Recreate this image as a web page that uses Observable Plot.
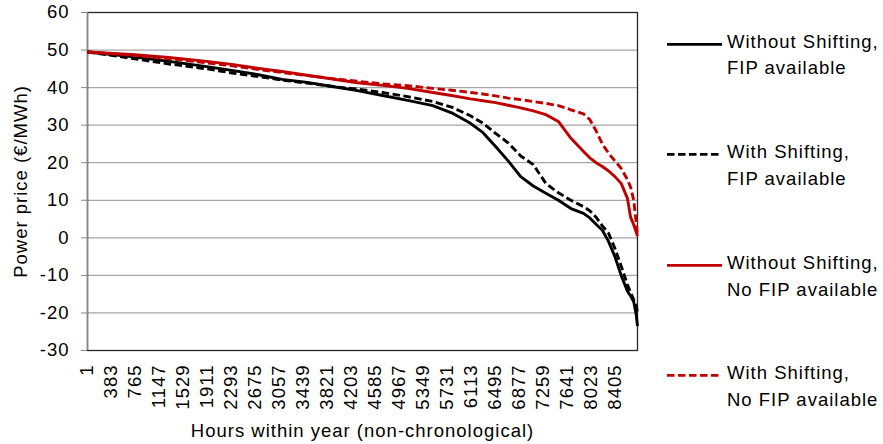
<!DOCTYPE html>
<html><head><meta charset="utf-8">
<script src="https://cdn.jsdelivr.net/npm/d3@7"></script>
<script src="https://cdn.jsdelivr.net/npm/@observablehq/plot@0.6"></script>
<style>
body{margin:0;background:#fff;}
#wrap{position:relative;width:883px;height:444px;font-family:"Liberation Sans",Arial,sans-serif;}
.leg{position:absolute;left:667px;display:flex;align-items:flex-start;font-size:18.5px;line-height:26.7px;letter-spacing:1px;color:#000;}
.leg svg{flex:none;display:block;}
.leg span{margin-left:5px;white-space:pre;}
</style></head><body><div id="wrap"></div>
<script>
// Hours (sorted, non-chronological) at which the curves are sampled
const hours = [1, 700, 1300, 1900, 2300, 2700, 3100, 3500, 3900, 4300, 4700, 5100, 5500, 5800, 6100, 6300, 6500, 6700, 6900, 7100, 7300, 7500, 7700, 7900, 8000, 8100, 8200, 8300, 8400, 8500, 8600, 8650, 8700, 8740, 8760];

const withoutShiftFIP = [49.5, 48.3, 47.0, 45.6, 44.6, 43.5, 42.2, 41.4, 40.3, 39.2, 37.9, 36.6, 35.2, 33.3, 30.5, 28.0, 24.3, 20.5, 16.3, 13.8, 11.9, 10.0, 7.8, 6.5, 5.3, 3.6, 2.0, -1.0, -5.0, -10.0, -14.2, -15.5, -17.0, -20.5, -23.5];
const withShiftFIP    = [49.5, 47.8, 46.3, 45.0, 43.9, 43.0, 42.0, 41.2, 40.3, 39.6, 38.7, 37.6, 36.3, 34.8, 32.5, 30.5, 27.8, 25.3, 21.8, 19.5, 14.5, 12.0, 10.0, 8.3, 7.2, 5.5, 3.2, 1.2, -2.8, -7.5, -12.5, -14.5, -16.5, -18.0, -20.0];
const withoutShiftNoFIP = [49.5, 48.8, 48.0, 47.0, 46.2, 45.2, 44.3, 43.3, 42.3, 41.3, 40.6, 39.8, 38.7, 37.9, 37.0, 36.5, 36.0, 35.3, 34.6, 33.8, 32.8, 31.0, 26.5, 23.0, 21.3, 20.0, 19.0, 17.8, 16.3, 14.5, 10.5, 5.5, 3.5, 1.5, 0.5];
const withShiftNoFIP    = [49.5, 48.6, 47.7, 46.6, 45.8, 44.9, 44.0, 43.2, 42.4, 41.7, 41.0, 40.5, 39.8, 39.3, 38.7, 38.3, 37.8, 37.2, 36.8, 36.3, 35.8, 35.2, 34.1, 33.0, 31.5, 28.5, 25.0, 22.5, 20.5, 18.5, 15.5, 13.5, 10.0, 4.0, 0.5];

const seriesNames = ["Without Shifting,\nFIP available", "With Shifting,\nFIP available", "Without Shifting,\nNo FIP available", "With Shifting,\nNo FIP available"];
const seriesValues = [withoutShiftFIP, withShiftFIP, withoutShiftNoFIP, withShiftNoFIP];
const seriesColors = ["#000000", "#000000", "#c00000", "#c00000"];
const seriesDash = [null, "7.5,3.5", null, "7.5,3.5"];

const xTicks = d3.range(1, 8761, 382); // 1, 383, ..., 8405
const yTicks = [-30, -20, -10, 0, 10, 20, 30, 40, 50, 60];

const xLabel = "Hours within year (non-chronological)";
const yLabel = "Power price (€/MWh)";

const rows = seriesValues.map((vals, i) => hours.map((h, j) => ({hour: h, value: vals[j], s: i})));

const lineMarks = rows.map((r, i) => Plot.line(r, {
  x: "hour", y: "value", stroke: seriesColors[i], strokeWidth: 2.9,
  strokeDasharray: seriesDash[i] || undefined, strokeLinejoin: "round", strokeLinecap: "butt"
}));

const chart = Plot.plot({
  width: 883, height: 444,
  marginLeft: 87, marginRight: 246, marginTop: 12, marginBottom: 94,
  style: {fontFamily: '"Liberation Sans", Arial, sans-serif', fontSize: "18.5px", letterSpacing: "1px", color: "#000", background: "#fff", overflow: "visible"},
  x: {type: "linear", domain: [1, 8760]},
  y: {domain: [-30, 60]},
  marks: [
    Plot.gridY(yTicks.filter(d => d > -30 && d < 60), {stroke: "#a6a6a6", strokeOpacity: 1, strokeWidth: 1.3}),
    Plot.frame({stroke: "#262626", strokeWidth: 1.3}),
    Plot.ruleX([1], {stroke: "#868686", strokeWidth: 1.5}),
    Plot.axisY({ticks: yTicks, tickFormat: d => `${d}`, tickSize: 6, tickPadding: 12, stroke: "#868686",
      label: yLabel, labelAnchor: "center", labelOffset: 74, labelArrow: "none", fill: "#000"}),
    Plot.axisX({ticks: xTicks, tickFormat: d => `${d}`, tickSize: 0, tickPadding: 14, tickRotate: -90,
      label: xLabel, labelAnchor: "center", labelOffset: 86, labelArrow: "none", fill: "#000"}),
    ...lineMarks
  ]
});

const wrap = document.getElementById("wrap");
wrap.appendChild(chart);

const legTops = [28.6, 138.8, 250.3, 360.3];
seriesNames.forEach((name, i) => {
  const d = document.createElement("div");
  d.className = "leg";
  d.style.top = legTops[i] + "px";
  const svgNS = "http://www.w3.org/2000/svg";
  const s = document.createElementNS(svgNS, "svg");
  s.setAttribute("width", 55); s.setAttribute("height", 27);
  const l = document.createElementNS(svgNS, "line");
  l.setAttribute("x1", 0); l.setAttribute("x2", 55);
  l.setAttribute("y1", 15.4); l.setAttribute("y2", 15.4);
  l.setAttribute("stroke", seriesColors[i]); l.setAttribute("stroke-width", 2.9);
  if (seriesDash[i]) l.setAttribute("stroke-dasharray", seriesDash[i]);
  s.appendChild(l);
  const t = document.createElement("span");
  t.textContent = name;
  d.appendChild(s); d.appendChild(t);
  wrap.appendChild(d);
});
</script></body></html>
